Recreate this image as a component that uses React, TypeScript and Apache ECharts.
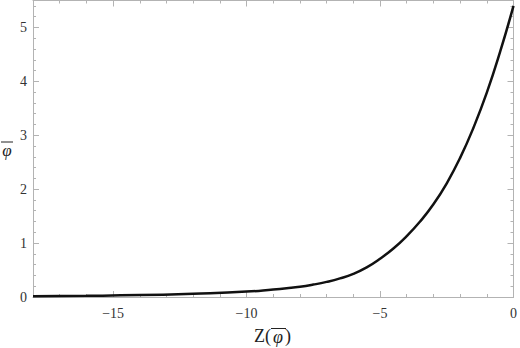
import React, { useEffect, useRef } from "react";
import * as echarts from "echarts";

const xValues = [-18, -16, -14, -12, -10, -9, -8.5, -8, -7.5, -7, -6.5, -6, -5.5, -5, -4.5, -4, -3.5, -3, -2.5, -2, -1.5, -1, -0.5, 0];
const yValues = [0.015, 0.022, 0.035, 0.062, 0.1, 0.14, 0.163, 0.19, 0.23, 0.28, 0.345, 0.43, 0.55, 0.71, 0.9, 1.13, 1.4, 1.72, 2.11, 2.58, 3.14, 3.79, 4.55, 5.4];
const xRange = [-18, 0];
const yRange = [0, 5.5];

const FRAME = "#b3b3b3";
const LABEL = "#333333";
const SERIF = "Liberation Serif";

const minus = (v: number) => (v < 0 ? "\u2212" + Math.abs(v) : String(v));

export default function App() {
  const ref = useRef<HTMLDivElement>(null);
  useEffect(() => {
    if (!ref.current) return;
    const chart = echarts.init(ref.current, undefined, { renderer: "svg" });
    const data = xValues.map((x, i) => [x, yValues[i]]);

    const minorX = (position: "bottom" | "top", line: boolean) => ({
      type: "value",
      position,
      min: xRange[0],
      max: xRange[1],
      interval: 1,
      axisLine: { show: line, onZero: false, lineStyle: { color: FRAME, width: 1 } },
      axisTick: { show: true, inside: true, length: 3, lineStyle: { color: FRAME } },
      axisLabel: { show: false },
      splitLine: { show: false },
    });
    const majorX = (position: "bottom" | "top", labels: boolean) => ({
      type: "value",
      position,
      min: xRange[0],
      max: xRange[1],
      splitNumber: 4,
      axisLine: { show: false, onZero: false },
      axisTick: { show: true, inside: true, length: 6, lineStyle: { color: FRAME } },
      axisLabel: {
        show: labels,
        margin: 9,
        color: LABEL,
        fontFamily: SERIF,
        fontSize: 14,
        formatter: (v: number) => (Math.abs(v % 5) < 1e-9 ? minus(v) : ""),
      },
      splitLine: { show: false },
    });
    const minorY = (position: "left" | "right", line: boolean) => ({
      type: "value",
      position,
      min: yRange[0],
      max: yRange[1],
      interval: 0.2,
      axisLine: { show: line, onZero: false, lineStyle: { color: FRAME, width: 1 } },
      axisTick: { show: true, inside: true, length: 3, lineStyle: { color: FRAME } },
      axisLabel: { show: false },
      splitLine: { show: false },
    });
    const majorY = (position: "left" | "right", labels: boolean) => ({
      type: "value",
      position,
      min: yRange[0],
      max: yRange[1],
      interval: 1,
      axisLine: { show: false, onZero: false },
      axisTick: { show: true, inside: true, length: 6, lineStyle: { color: FRAME } },
      axisLabel: {
        show: labels,
        margin: 6,
        color: LABEL,
        fontFamily: SERIF,
        fontSize: 14,
        formatter: (v: number) => (Math.abs(v - Math.round(v)) < 1e-9 ? String(Math.round(v)) : ""),
      },
      splitLine: { show: false },
    });

    chart.setOption({
      animation: false,
      backgroundColor: "#ffffff",
      grid: { left: 33, right: 3, top: 0.5, bottom: 51, containLabel: false },
      xAxis: [minorX("bottom", true), majorX("bottom", true), minorX("top", true), majorX("top", false)],
      yAxis: [minorY("left", true), majorY("left", true), minorY("right", true), majorY("right", false)],
      series: [
        {
          type: "line",
          xAxisIndex: 0,
          yAxisIndex: 0,
          data,
          smooth: 0.5,
          showSymbol: false,
          symbol: "none",
          clip: true,
          lineStyle: { color: "#111111", width: 2.5 },
        },
      ],
      graphic: [
        {
          type: "text",
          x: 7,
          y: 150,
          style: { text: "\u03C6", font: `italic 17px '${SERIF}'`, fill: "#222", align: "center", verticalAlign: "middle" },
        },
        { type: "line", shape: { x1: 1, y1: 142, x2: 13, y2: 142 }, style: { stroke: "#222", lineWidth: 1 } },
        {
          type: "text",
          x: 271,
          y: 336,
          style: { text: "Z(", font: `18px '${SERIF}'`, fill: "#222", align: "right", verticalAlign: "middle" },
        },
        {
          type: "text",
          x: 278,
          y: 337,
          style: { text: "\u03C6", font: `italic 18px '${SERIF}'`, fill: "#222", align: "center", verticalAlign: "middle" },
        },
        {
          type: "text",
          x: 285,
          y: 336,
          style: { text: ")", font: `18px '${SERIF}'`, fill: "#222", align: "left", verticalAlign: "middle" },
        },
        { type: "line", shape: { x1: 271, y1: 328.5, x2: 286, y2: 328.5 }, style: { stroke: "#222", lineWidth: 1 } },
      ],
    });
    return () => chart.dispose();
  }, []);
  return <div ref={ref} style={{ width: 520, height: 348, position: "absolute", left: 0, top: 0 }} />;
}
